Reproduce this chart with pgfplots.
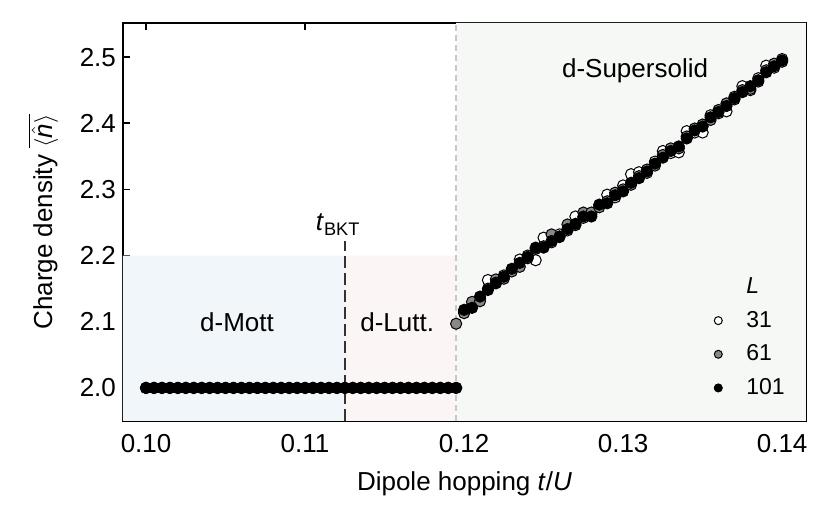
\documentclass[border=0pt]{standalone}
\usepackage{fontspec}
\setmainfont{Liberation Sans}
\usepackage{pgfplots}
\usepackage{pgfplotstable}
\pgfplotsset{compat=1.18}
\usetikzlibrary{calc}

\definecolor{mottblue}{HTML}{F1F6FA}
\definecolor{luttpink}{HTML}{FCF5F5}
\definecolor{ssgreen}{HTML}{F5F8F5}
\definecolor{midgray}{HTML}{888888}
\definecolor{sepgray}{HTML}{C8C8C8}

% columns: t/U, L=31, L=61, L=101
\pgfplotstableread{
x      w      g      b
0.1000 2.000  2.000  2.000
0.1005 2.000  2.000  2.000
0.1010 2.000  2.000  2.000
0.1015 2.000  2.000  2.000
0.1020 2.000  2.000  2.000
0.1025 2.000  2.000  2.000
0.1030 2.000  2.000  2.000
0.1035 2.000  2.000  2.000
0.1040 2.000  2.000  2.000
0.1045 2.000  2.000  2.000
0.1050 2.000  2.000  2.000
0.1055 2.000  2.000  2.000
0.1060 2.000  2.000  2.000
0.1065 2.000  2.000  2.000
0.1070 2.000  2.000  2.000
0.1075 2.000  2.000  2.000
0.1080 2.000  2.000  2.000
0.1085 2.000  2.000  2.000
0.1090 2.000  2.000  2.000
0.1095 2.000  2.000  2.000
0.1100 2.000  2.000  2.000
0.1105 2.000  2.000  2.000
0.1110 2.000  2.000  2.000
0.1115 2.000  2.000  2.000
0.1120 2.000  2.000  2.000
0.1125 2.000  2.000  2.000
0.1130 2.000  2.000  2.000
0.1135 2.000  2.000  2.000
0.1140 2.000  2.000  2.000
0.1145 2.000  2.000  2.000
0.1150 2.000  2.000  2.000
0.1155 2.000  2.000  2.000
0.1160 2.000  2.000  2.000
0.1165 2.000  2.000  2.000
0.1170 2.000  2.000  2.000
0.1175 2.000  2.000  2.000
0.1180 2.000  2.000  2.000
0.1185 2.000  2.000  2.000
0.1190 2.000  2.000  2.000
0.1195 2.000  2.097  2.000
0.1200 2.115  2.113  2.118
0.1205 2.125  2.130  2.121
0.1210 2.135  2.131  2.138
0.1215 2.163  2.150  2.148
0.1220 2.158  2.164  2.159
0.1225 2.170  2.165  2.168
0.1230 2.178  2.176  2.180
0.1235 2.194  2.183  2.189
0.1240 2.200  2.196  2.198
0.1245 2.193  2.210  2.212
0.1250 2.227  2.214  2.212
0.1255 2.220  2.232  2.222
0.1260 2.232  2.228  2.229
0.1265 2.238  2.247  2.240
0.1270 2.259  2.246  2.248
0.1275 2.257  2.265  2.259
0.1280 2.262  2.265  2.259
0.1285 2.275  2.273  2.277
0.1290 2.292  2.282  2.279
0.1295 2.288  2.295  2.291
0.1300 2.306  2.300  2.297
0.1305 2.323  2.307  2.310
0.1310 2.326  2.320  2.317
0.1315 2.325  2.330  2.327
0.1320 2.342  2.336  2.339
0.1325 2.358  2.352  2.348
0.1330 2.355  2.362  2.358
0.1335 2.356  2.362  2.365
0.1340 2.388  2.380  2.377
0.1345 2.386  2.392  2.389
0.1350 2.386  2.398  2.395
0.1355 2.412  2.405  2.409
0.1360 2.415  2.420  2.417
0.1365 2.418  2.430  2.426
0.1370 2.440  2.436  2.438
0.1375 2.456  2.450  2.447
0.1380 2.450  2.452  2.456
0.1385 2.468  2.463  2.465
0.1390 2.487  2.480  2.477
0.1395 2.484  2.490  2.486
0.1400 2.497  2.493  2.495
}\density

\begin{document}
\begin{tikzpicture}[font=\fontsize{13}{15.6}\selectfont]
\begin{axis}[
    scale only axis,
    width=341.5pt, height=199pt,
    xmin=0.09855, xmax=0.1415,
    ymin=1.95, ymax=2.5515,
    xtick={0.10,0.11,0.12,0.13,0.14},
    ytick={2.0,2.1,2.2,2.3,2.4,2.5},
    /pgf/number format/assume math mode=true,
    xticklabel style={yshift=-3pt, /pgf/number format/.cd, fixed, fixed zerofill, precision=2},
    yticklabel style={/pgf/number format/.cd, fixed, fixed zerofill, precision=1},
    scaled x ticks=false,
    tick align=inside,
    major tick length=3.5pt,
    tick style={black, line width=0.8pt},
    axis line style={line width=1.1pt},
    xlabel={Dipole hopping \textit{t}/\textit{U}},
    xlabel style={yshift=-2.5pt},
    ylabel={Charge density $\overline{\langle\hat{\textit{n}}\rangle}$},
    ylabel style={yshift=4pt},
    legend style={draw=none, fill=none, at={(rel axis cs:0.984,0.038)},
        anchor=south east, row sep=3.3pt,
        font=\fontsize{11.5}{13.5}\selectfont,
        /tikz/every odd column/.append style={column sep=10pt}},
    legend image post style={mark size=2pt},
    legend cell align=left,
    mark size=2.8pt,
]
% phase regions
\addplot[draw=none, fill=mottblue, forget plot] coordinates
    {(0.09855,1.95) (0.09855,2.2) (0.1125,2.2) (0.1125,1.95)} \closedcycle;
\addplot[draw=none, fill=luttpink, forget plot] coordinates
    {(0.1125,1.95) (0.1125,2.2) (0.1195,2.2) (0.1195,1.95)} \closedcycle;
\addplot[draw=none, fill=ssgreen, forget plot] coordinates
    {(0.1195,1.95) (0.1195,2.5515) (0.1415,2.5515) (0.1415,1.95)} \closedcycle;
\addplot[sepgray, line width=1.3pt, dash pattern=on 3pt off 2pt, forget plot] coordinates
    {(0.1195,1.95) (0.1195,2.5515)};
\addplot[black!80, line width=1.1pt, dash pattern=on 6pt off 2.5pt, forget plot] coordinates
    {(0.1125,1.95) (0.1125,2.222)};

\node at (axis cs:0.13075,2.479) {d-Supersolid};
\node at (axis cs:0.10572,2.1) {d-Mott};
\node at (axis cs:0.11579,2.1) {d-Lutt.};
\node at (axis cs:0.11208,2.247) {\textit{t}\textsubscript{BKT}};

\addlegendimage{empty legend}
\addlegendentry{\textit{L}}
\addplot[only marks, mark=*, mark options={fill=white, draw=black, line width=0.5pt}]
    table[x=x, y=w] {\density};
\addlegendentry{31}
\addplot[only marks, mark=*, mark options={fill=midgray, draw=black, line width=0.5pt}]
    table[x=x, y=g] {\density};
\addlegendentry{61}
\addplot[only marks, mark=*, mark options={fill=black, draw=black, line width=0.5pt}]
    table[x=x, y=b] {\density};
\addlegendentry{101}
\end{axis}
\pgfresetboundingbox
\path[use as bounding box] ($(current axis.south west)+(-61.5pt,-51pt)$) rectangle ($(current axis.north east)+(12.5pt,11.5pt)$);
\end{tikzpicture}
\end{document}
